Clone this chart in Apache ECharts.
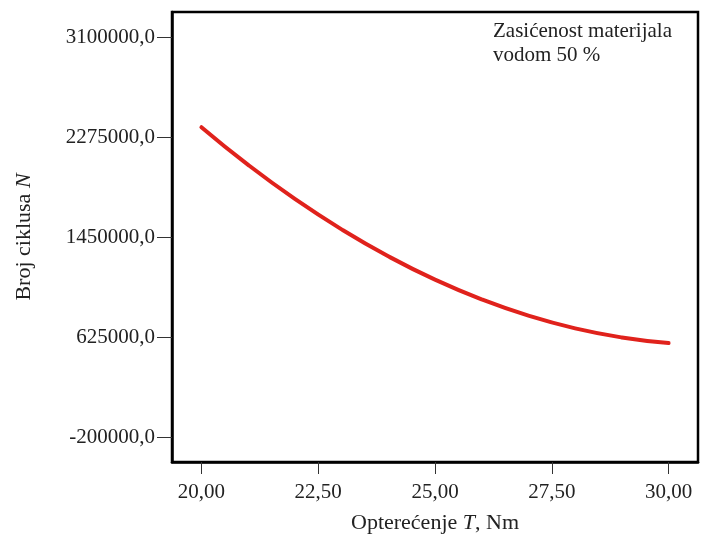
<!DOCTYPE html>
<html>
<head>
<meta charset="utf-8">
<script src="https://cdn.jsdelivr.net/npm/echarts@6/dist/echarts.min.js"></script>
<style>
  html, body { margin: 0; padding: 0; background: #fff; }
  #main { width: 702px; height: 539px; }
</style>
</head>
<body>
<div id="main"></div>
<script>
// opterecenje T (Nm) i broj ciklusa N, ocitano sa slike
var loadT = [20, 21, 22, 23, 24, 25, 26, 27, 28, 29, 30];
var cycles = [2356000, 2045000, 1764000, 1513000, 1291000, 1098000, 935000, 801000, 696000, 621000, 575000];
var xTicks = [20, 22.5, 25, 27.5, 30];
var yTicks = [-200000, 625000, 1450000, 2275000, 3100000];

var serif = '"Liberation Serif", "Times New Roman", serif';

var chart = echarts.init(document.getElementById('main'));

var points = [];
for (var i = 0; i < loadT.length; i++) {
  points.push([loadT[i], cycles[i]]);
}

chart.setOption({
  animation: false,
  grid: {
    left: 172,
    right: 4,
    top: 12,
    bottom: 76,
    show: true,
    borderColor: '#000',
    borderWidth: 2.5,
    backgroundColor: '#fff'
  },
  xAxis: {
    type: 'value',
    min: 19.37,
    max: 30.63,
    name: 'Opterećenje {i|T}, Nm',
    nameLocation: 'middle',
    nameGap: 50,
    nameTextStyle: {
      fontFamily: serif,
      fontSize: 22,
      color: '#222',
      rich: { i: { fontFamily: serif, fontSize: 22, fontStyle: 'italic', color: '#222' } }
    },
    axisLine: { show: true, onZero: false, lineStyle: { color: '#000', width: 2.5 } },
    axisTick: { show: true, length: 12, customValues: xTicks, lineStyle: { color: '#333', width: 1 } },
    axisLabel: {
      customValues: xTicks,
      margin: 20,
      fontFamily: serif,
      fontSize: 21,
      color: '#222',
      formatter: function (v) { return v.toFixed(2).replace('.', ','); }
    },
    splitLine: { show: false }
  },
  yAxis: {
    type: 'value',
    min: -406250,
    max: 3306250,
    name: 'Broj ciklusa {i|N}',
    nameLocation: 'middle',
    nameGap: 137,
    nameTextStyle: {
      fontFamily: serif,
      fontSize: 22,
      color: '#222',
      rich: { i: { fontFamily: serif, fontSize: 22, fontStyle: 'italic', color: '#222' } }
    },
    axisLine: { show: true, onZero: false, lineStyle: { color: '#000', width: 2.5 } },
    axisTick: { show: true, length: 15, customValues: yTicks, lineStyle: { color: '#333', width: 1 } },
    axisLabel: {
      customValues: yTicks,
      margin: 17,
      fontFamily: serif,
      fontSize: 21,
      color: '#222',
      formatter: function (v) { return v.toFixed(1).replace('.', ','); }
    },
    splitLine: { show: false }
  },
  graphic: [{
    type: 'text',
    left: 493,
    top: 19,
    style: {
      text: 'Zasićenost materijala\nvodom 50 %',
      font: '21px ' + serif,
      lineHeight: 24,
      fill: '#222'
    }
  }],
  series: [{
    type: 'line',
    data: points,
    smooth: true,
    showSymbol: false,
    lineStyle: { color: '#e0221c', width: 4, cap: 'round' }
  }]
});
</script>
</body>
</html>
